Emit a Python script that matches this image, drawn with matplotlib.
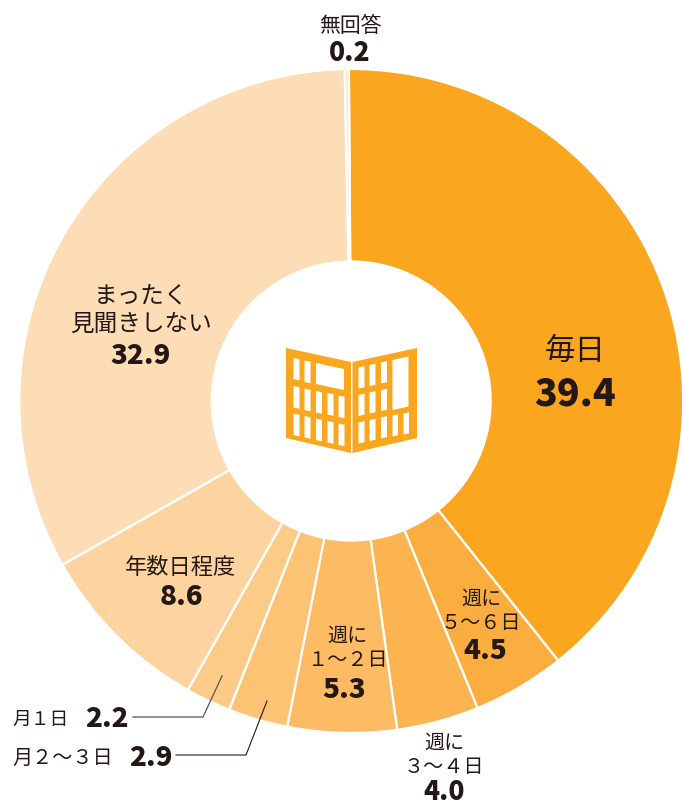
import matplotlib
matplotlib.use("Agg")
import matplotlib.pyplot as plt
from matplotlib.patches import Polygon

plt.rcParams["font.family"] = ["Noto Sans CJK JP", "DejaVu Sans"]

categories = ["毎日", "週に\n５〜６日", "週に\n３〜４日", "週に\n１〜２日", "月２〜３日", "月１日", "年数日程度", "まったく\n見聞きしない", "無回答"]
values = [39.4, 4.5, 4.0, 5.3, 2.9, 2.2, 8.6, 32.9, 0.2]
colors = ["#FAA61E", "#FBAE3F", "#FCB450", "#FDBB63", "#FDC375", "#FDCB88", "#FDD49F", "#FDDDB5", "#FDE8CC"]

W, H = 682, 805
CX, CY, R = 351.2, 401, 332
HOLE = 139.5
TEXT = "#231815"
ICON = "#FAA61E"

fig = plt.figure(figsize=(W / 100, H / 100), dpi=100)
ax = fig.add_axes([0, 0, 1, 1])

ax.pie(values, colors=colors, startangle=90.4, counterclock=False, center=(CX, -CY), radius=R,
       wedgeprops=dict(width=R - HOLE, edgecolor="white", linewidth=1.6), frame=False)
ax.set_xlim(0, W)
ax.set_ylim(-H, 0)
ax.set_aspect("auto")
ax.axis("off")


def label(i, x, y, size, gap=24):
    lines = categories[i].split("\n")
    for n, line in enumerate(lines):
        ax.text(x, -(y + 2.5 + n * gap), line, fontsize=size, ha="center", va="center", color=TEXT)


def number(i, x, y, size=20, ha="center"):
    ax.text(x, -(y + 2), str(values[i]), fontsize=size, ha=ha, va="center", color=TEXT, fontweight="black")


label(8, 350, 24, 15)
number(8, 350, 51, 19)
label(0, 575, 349, 22)
number(0, 575, 392, 27)
label(7, 141, 294, 17, gap=28)
number(7, 141, 354)
label(6, 181, 565, 16)
number(6, 181, 595)
label(3, 347, 634, 14.5)
number(3, 344, 688)
label(1, 481, 597, 14.5)
number(1, 485, 649)
label(2, 444, 741, 14.5)
number(2, 444, 790, 19)

ax.text(12, -719, categories[5], fontsize=13.5, ha="left", va="center", color=TEXT)
number(5, 85, 717, ha="left")
ax.text(12, -758, categories[4], fontsize=14.5, ha="left", va="center", color=TEXT)
number(4, 129, 756, ha="left")

ax.plot([133, 203, 222], [-717, -717, -676], color="#555555", lw=0.9)
ax.plot([176, 246, 267], [-755, -755, -701], color=TEXT, lw=0.8)


# icon geometry is measured in pixels of the reference
def page(points):
    ax.add_patch(Polygon([(x, -y) for x, y in points], color=ICON, lw=0))


def cell(x0, x1, y0, y1, slope):
    dy = slope * (x1 - x0)
    ax.add_patch(Polygon([(x0, -y0), (x1, -(y0 + dy)), (x1, -(y1 + dy)), (x0, -y1)], color="white", lw=0))


page([(286, 348), (351, 362), (351, 453), (286, 438)])
page([(352.5, 362), (417, 348), (417, 438), (352.5, 453)])

SL = 0.215
# left page, first two columns then the window
cell(293.5, 299.5, 358, 379, SL)
cell(304.5, 310.5, 360.5, 382, SL)
cell(316, 344, 363, 384, SL)
for x0, y_mid, y_low in [(293.5, 386, 413.5), (304.5, 388.5, 416), (316, 391, 418.5), (327.5, 393, 421), (338.5, 395.5, 423.5)]:
    cell(x0, x0 + 6, y_mid, y_mid + 21.5, SL)
    cell(x0, x0 + 6, y_low, y_low + 21.5, SL)

# right page, three columns then the window and two short columns
for x0, y_top, y_mid, y_low in [(358.5, 367.5, 395, 422.5), (369.5, 365, 392.5, 420), (381, 362.5, 390, 417.5)]:
    cell(x0, x0 + 6, y_top, y_top + 21, -SL)
    cell(x0, x0 + 6, y_mid, y_mid + 21, -SL)
    cell(x0, x0 + 6, y_low, y_low + 21, -SL)
cell(392.5, 408.5, 360, 410, -SL)
cell(392.5, 398, 415.5, 436.5, -SL)
cell(403.5, 409, 413.5, 434.5, -SL)

fig.savefig("out.png", dpi=100)
